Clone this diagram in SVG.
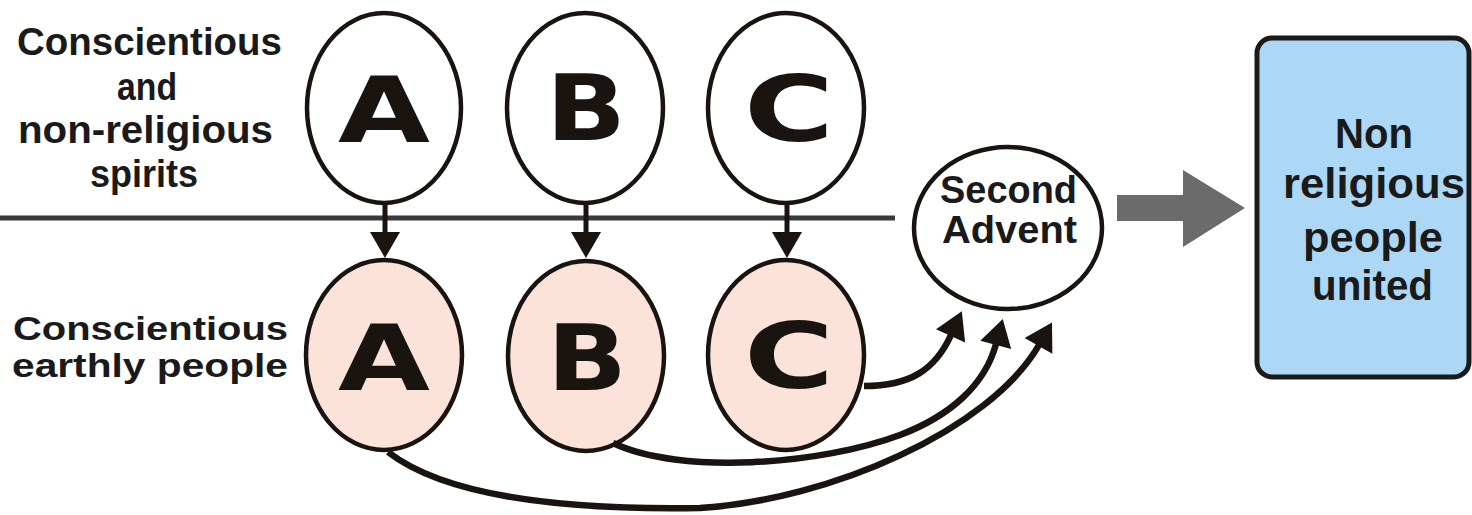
<svg xmlns="http://www.w3.org/2000/svg" width="1472" height="515" viewBox="0 0 1472 515">
<style>
.lbl{font-family:"Liberation Sans",Arial,sans-serif;font-weight:bold;fill:#1a1a1a;text-anchor:middle}
.big{font-family:"DejaVu Sans",sans-serif;font-weight:bold;font-size:90px;fill:#1a1410;text-anchor:middle}
.top{fill:#ffffff;stroke:#1a1410;stroke-width:4.5}
.bot{fill:#fbe3da;stroke:#1a1410;stroke-width:4.5}
.con{fill:none;stroke:#1a1410;stroke-width:6.5}
.down{fill:none;stroke:#1a1410;stroke-width:5}
</style>
<defs>
<marker id="ah" markerUnits="userSpaceOnUse" markerWidth="30" markerHeight="36" viewBox="0 -18 28 36" refX="1" refY="0" orient="auto">
<path d="M0,-16 L27,0 L0,16 Z" fill="#1a1410"/>
</marker>
<marker id="ahd" markerUnits="userSpaceOnUse" markerWidth="30" markerHeight="34" viewBox="0 -17 27 34" refX="1" refY="0" orient="auto">
<path d="M0,-15 L26,0 L0,15 Z" fill="#1a1410"/>
</marker>
</defs>
<rect width="1472" height="515" fill="#ffffff"/>
<g id="labels">
<text class="lbl" font-size="38" x="149.5" y="55" textLength="265" lengthAdjust="spacingAndGlyphs">Conscientious</text>
<text class="lbl" font-size="38" x="147" y="100" textLength="60" lengthAdjust="spacingAndGlyphs">and</text>
<text class="lbl" font-size="38" x="145.5" y="143" textLength="255" lengthAdjust="spacingAndGlyphs">non-religious</text>
<text class="lbl" font-size="38" x="144" y="187" textLength="108" lengthAdjust="spacingAndGlyphs">spirits</text>
<text class="lbl" font-size="34" x="150.5" y="340" textLength="275" lengthAdjust="spacingAndGlyphs">Conscientious</text>
<text class="lbl" font-size="34" x="150" y="377" textLength="276" lengthAdjust="spacingAndGlyphs">earthly people</text>
</g>
<line id="divider" x1="0" y1="218" x2="895" y2="218" stroke="#3a3a3a" stroke-width="5"/>
<g id="spirit-A"><ellipse class="top" cx="384" cy="108" rx="77" ry="95"/><text class="big" x="384" y="142" textLength="92" lengthAdjust="spacingAndGlyphs">A</text></g>
<g id="spirit-B"><ellipse class="top" cx="585" cy="108" rx="78" ry="95"/><text class="big" x="586" y="140" textLength="80" lengthAdjust="spacingAndGlyphs">B</text></g>
<g id="spirit-C"><ellipse class="top" cx="786" cy="108" rx="78" ry="95"/><text class="big" x="789" y="141" textLength="90" lengthAdjust="spacingAndGlyphs">C</text></g>
<g id="people-A"><ellipse class="bot" cx="384" cy="355" rx="78" ry="95"/><text class="big" x="384" y="390" textLength="92" lengthAdjust="spacingAndGlyphs">A</text></g>
<g id="people-B"><ellipse class="bot" cx="586" cy="356" rx="78" ry="95"/><text class="big" x="587" y="390" textLength="80" lengthAdjust="spacingAndGlyphs">B</text></g>
<g id="people-C"><ellipse class="bot" cx="786" cy="355" rx="78" ry="95"/><text class="big" x="789" y="388" textLength="90" lengthAdjust="spacingAndGlyphs">C</text></g>
<g id="second-advent"><ellipse fill="#ffffff" stroke="#1a1410" stroke-width="4.5" cx="1008" cy="228" rx="94" ry="81"/>
<text class="lbl" font-size="38" x="1008.5" y="203" textLength="137" lengthAdjust="spacingAndGlyphs">Second</text>
<text class="lbl" font-size="38" x="1009.5" y="243" textLength="135" lengthAdjust="spacingAndGlyphs">Advent</text></g>
<g id="result"><rect x="1257" y="38" width="212" height="339" rx="15" ry="15" fill="#acd8f5" stroke="#1a1a1a" stroke-width="5"/>
<text class="lbl" font-size="42" x="1374" y="148" textLength="78" lengthAdjust="spacingAndGlyphs">Non</text>
<text class="lbl" font-size="42" x="1374" y="198" textLength="182" lengthAdjust="spacingAndGlyphs">religious</text>
<text class="lbl" font-size="42" x="1373" y="252" textLength="140" lengthAdjust="spacingAndGlyphs">people</text>
<text class="lbl" font-size="42" x="1372.5" y="300" textLength="121" lengthAdjust="spacingAndGlyphs">united</text></g>
<g id="connectors">
<line class="down" x1="385" y1="203" x2="385" y2="233" marker-end="url(#ahd)"/>
<line class="down" x1="586" y1="203" x2="586" y2="233" marker-end="url(#ahd)"/>
<line class="down" x1="787" y1="203" x2="787" y2="233" marker-end="url(#ahd)"/>
<path class="con" d="M 864 386 C 910 386, 935 370, 951 335" marker-end="url(#ah)"/>
<path class="con" d="M 613 443 C 680 475, 820 465, 900 435 C 950 416, 985 385, 996 344" marker-end="url(#ah)"/>
<path class="con" d="M 388 452 C 450 500, 580 510, 700 508 C 830 500, 990 430, 1039 345" marker-end="url(#ah)"/>
<polygon points="1117,195 1183,195 1183,170 1245,208 1183,247 1183,221 1117,221" fill="#6b6b6b"/>
</g>
</svg>
